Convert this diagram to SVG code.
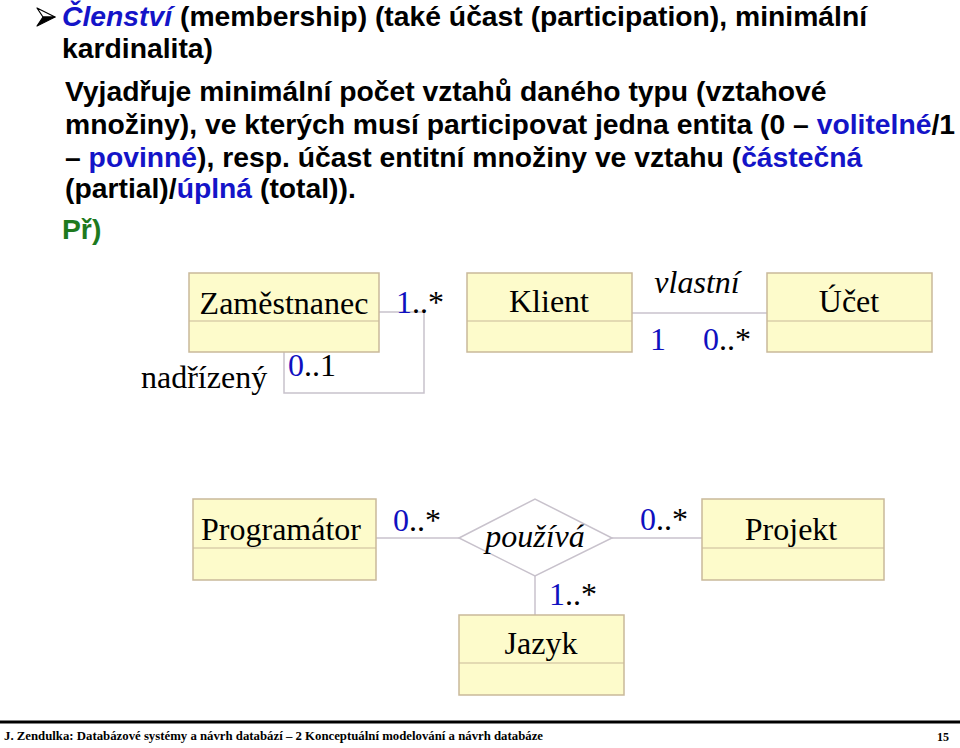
<svg xmlns="http://www.w3.org/2000/svg" width="960" height="748" viewBox="0 0 960 748">
<style>
.t{font-family:"Liberation Sans",Arial,sans-serif;font-weight:bold;font-size:28.3px;fill:#000}
.b{fill:#1414c8}
.g{fill:#1e7a1e}
.box{fill:#fdfbcb;stroke:#c9b99a;stroke-width:1.5}
.div{stroke:#c9b99a;stroke-width:1.2}
.n{font-family:"Liberation Serif","Times New Roman",serif;font-size:32px;fill:#000}
.i{font-style:italic}
.m{fill:#1010c0}
.c{fill:none;stroke:#c8c2cc;stroke-width:1.5}
.f{font-family:"Liberation Serif","Times New Roman",serif;font-weight:bold;font-size:12px;fill:#000}
</style>
<rect width="960" height="748" fill="#fff"/>
<g id="text">
<path d="M37,8 L55,17 L43,17 Z" fill="#fff" stroke="#000" stroke-width="1.2" stroke-linejoin="round"/>
<path d="M37,26 L55,17 L43,17 Z" fill="#000" stroke="#000" stroke-width="1.2" stroke-linejoin="round"/>
<text class="t" x="62" y="26"><tspan class="b" font-style="italic">Členství</tspan> (membership) (také účast (participation), minimální</text>
<text class="t" x="62" y="58">kardinalita)</text>
<text class="t" x="65" y="101">Vyjadřuje minimální počet vztahů daného typu (vztahové</text>
<text class="t" x="65" y="134">množiny), ve kterých musí participovat jedna entita (0 – <tspan class="b">volitelné</tspan>/1</text>
<text class="t" x="65" y="167">– <tspan class="b">povinné</tspan>), resp. účast entitní množiny ve vztahu (<tspan class="b">částečná</tspan></text>
<text class="t" x="65" y="198">(partial)/<tspan class="b">úplná</tspan> (total)).</text>
<text class="t g" x="62" y="239">Př)</text>
</g>
<g id="connectors">
<polyline class="c" points="379,312 424,312 424,393 284,393 284,352"/>
<line class="c" x1="632" y1="313" x2="767" y2="313"/>
<line class="c" x1="372" y1="538" x2="459" y2="538"/>
<line class="c" x1="612" y1="538" x2="702" y2="538"/>
<line class="c" x1="535" y1="576" x2="535" y2="615"/>
</g>
<g id="zamestnanec">
<rect class="box" x="189" y="273" width="190" height="79"/>
<line class="div" x1="189" y1="321" x2="379" y2="321"/>
<text class="n" x="284" y="314" text-anchor="middle">Zaměstnanec</text>
</g>
<g id="zamestnanec-labels">
<text class="n" x="396" y="313"><tspan class="m">1</tspan>..*</text>
<text class="n" x="288" y="376"><tspan class="m">0</tspan>..1</text>
<text class="n" x="141" y="388">nadřízený</text>
</g>
<g id="klient">
<rect class="box" x="467" y="273" width="165" height="79"/>
<line class="div" x1="467" y1="321" x2="632" y2="321"/>
<text class="n" x="549" y="312" text-anchor="middle">Klient</text>
</g>
<g id="ucet">
<rect class="box" x="767" y="273" width="165" height="79"/>
<line class="div" x1="767" y1="321" x2="932" y2="321"/>
<text class="n" x="849" y="312" text-anchor="middle">Účet</text>
</g>
<g id="vlastni-labels">
<text class="n i" x="697" y="293" text-anchor="middle">vlastní</text>
<text class="n m" x="650" y="350">1</text>
<text class="n" x="703" y="350"><tspan class="m">0</tspan>..*</text>
</g>
<g id="programator">
<rect class="box" x="193" y="499" width="183" height="81"/>
<line class="div" x1="193" y1="548" x2="376" y2="548"/>
<text class="n" x="281" y="540" text-anchor="middle">Programátor</text>
</g>
<g id="pouziva">
<polygon points="459,538 535,499 612,538 535,576" fill="#fff" stroke="#c8c2cc" stroke-width="1.5"/>
<text class="n i" x="535" y="547" text-anchor="middle">používá</text>
</g>
<g id="projekt">
<rect class="box" x="702" y="499" width="182" height="81"/>
<line class="div" x1="702" y1="548" x2="884" y2="548"/>
<text class="n" x="791" y="540" text-anchor="middle">Projekt</text>
</g>
<g id="jazyk">
<rect class="box" x="459" y="615" width="165" height="80"/>
<line class="div" x1="459" y1="663" x2="624" y2="663"/>
<text class="n" x="541" y="654" text-anchor="middle">Jazyk</text>
</g>
<g id="pouziva-labels">
<text class="n" x="393" y="531"><tspan class="m">0</tspan>..*</text>
<text class="n" x="640" y="530"><tspan class="m">0</tspan>..*</text>
<text class="n" x="549" y="605"><tspan class="m">1</tspan>..*</text>
</g>
<g id="footer">
<line x1="0" y1="722" x2="960" y2="722" stroke="#000" stroke-width="3"/>
<text class="f" x="4" y="740" textLength="539" lengthAdjust="spacingAndGlyphs">J. Zendulka: Databázové systémy a návrh databází – 2 Konceptuální modelování a návrh databáze</text>
<text class="f" x="937" y="741">15</text>
</g>
</svg>
